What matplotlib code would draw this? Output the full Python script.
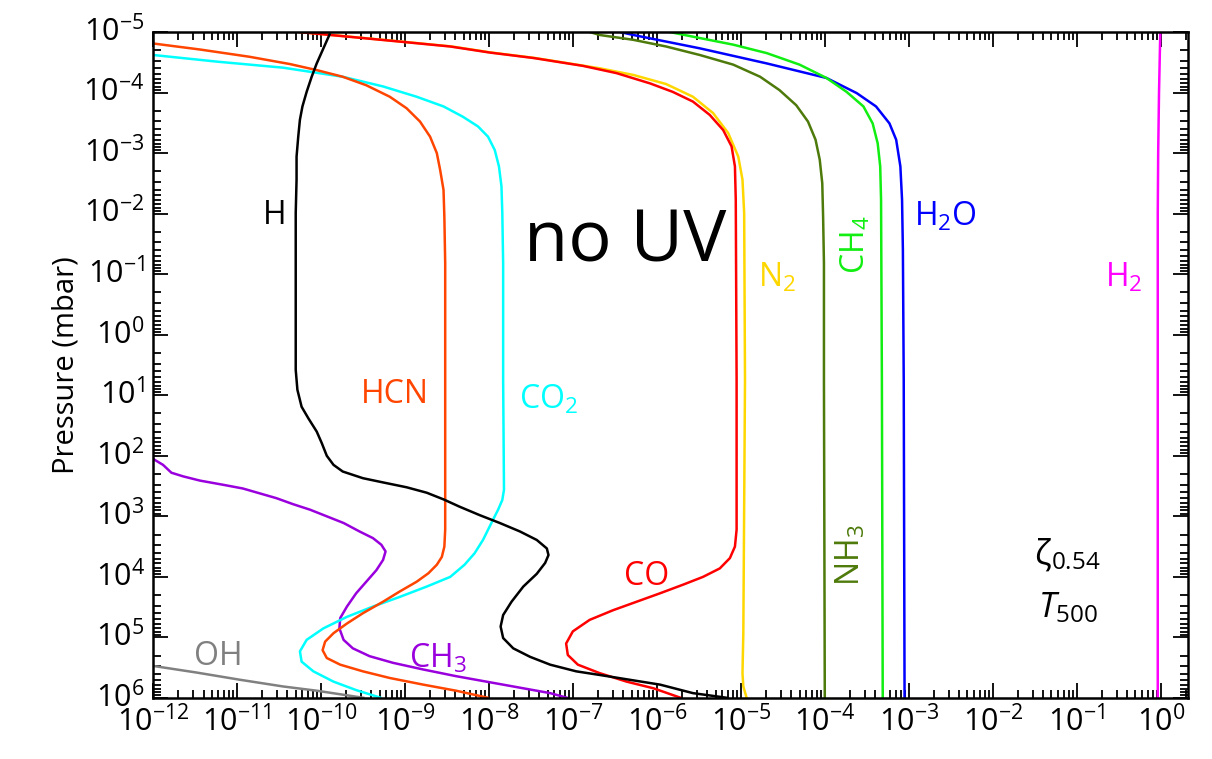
import matplotlib
matplotlib.use("Agg")
import matplotlib.pyplot as plt
import numpy as np
from matplotlib.ticker import LogLocator, NullFormatter

plt.rcParams["font.family"] = ["Open Sans", "DejaVu Sans"]
plt.rcParams["mathtext.fontset"] = "custom"
plt.rcParams["mathtext.rm"] = "Open Sans"
plt.rcParams["mathtext.it"] = "Open Sans:italic"
plt.rcParams["mathtext.default"] = "regular"
plt.rcParams["axes.unicode_minus"] = False
plt.rcParams["ytick.alignment"] = "center"

# --- Profiles: log10(pressure / mbar) and log10(mixing ratio) ---
H_logp = [-4.98, -4.73, -4.48, -4.26, -4.01, -3.77, -3.55, -3.27, -2.94, -2.56, -2.01, -1.19,
          0.25, 0.58, 0.91, 1.19, 1.38, 1.60, 1.79, 2.00, 2.15, 2.26, 2.37, 2.44, 2.52, 2.61,
          2.72, 2.84, 2.98, 3.11, 3.25, 3.39, 3.53, 3.64, 3.77, 3.95, 4.16, 4.41, 4.63, 4.82,
          5.01, 5.18, 5.32, 5.45, 5.56, 5.62, 5.78, 5.92, 6.0]
H_logx = [-9.89, -9.97, -10.05, -10.11, -10.17, -10.22, -10.25, -10.27, -10.29, -10.29, -10.30, -10.30,
          -10.30, -10.30, -10.28, -10.23, -10.15, -10.05, -9.99, -9.93, -9.85, -9.74, -9.50, -9.26,
          -8.98, -8.74, -8.54, -8.35, -8.11, -7.87, -7.63, -7.43, -7.31, -7.29, -7.33, -7.43, -7.59,
          -7.73, -7.83, -7.86, -7.83, -7.71, -7.51, -7.27, -6.96, -6.68, -5.96, -5.57, -5.15]

HCN_logp = [-4.81, -4.71, -4.59, -4.47, -4.37, -4.26, -4.12, -3.93, -3.74, -3.52, -3.27, -3.00,
            -2.72, -2.39, -1.95, -1.18, 0.75, 3.22, 3.50, 3.67, 3.80, 3.94, 4.08, 4.24, 4.41, 4.60,
            4.77, 4.93, 5.07, 5.21, 5.34, 5.45, 5.56, 5.67, 5.78, 5.88, 6.0]
HCN_logx = [-12.0, -11.44, -10.85, -10.37, -10.05, -9.74, -9.46, -9.18, -8.98, -8.82, -8.70, -8.62,
            -8.58, -8.54, -8.53, -8.52, -8.52, -8.52, -8.53, -8.56, -8.62, -8.72, -8.86, -9.06, -9.26,
            -9.50, -9.69, -9.85, -9.95, -9.98, -9.93, -9.77, -9.50, -9.18, -8.78, -8.39, -8.0]

CO2_logp = [-4.62, -4.51, -4.41, -4.26, -4.10, -3.93, -3.77, -3.60, -3.44, -3.27, -3.05, -2.78,
            -2.45, -2.01, -1.18, 0.75, 2.56, 2.73, 2.89, 3.11, 3.39, 3.61, 3.80, 4.00, 4.16, 4.33,
            4.49, 4.66, 4.85, 5.04, 5.23, 5.40, 5.56, 5.73, 5.87, 6.0]
CO2_logx = [-12.0, -11.24, -10.45, -9.74, -9.26, -8.86, -8.54, -8.31, -8.13, -8.01, -7.93, -7.88,
            -7.85, -7.84, -7.83, -7.83, -7.82, -7.84, -7.89, -7.97, -8.07, -8.17, -8.29, -8.46, -8.74,
            -9.06, -9.38, -9.69, -9.97, -10.17, -10.25, -10.23, -10.09, -9.85, -9.58, -9.28]

CH3_logp = [2.05, 2.15, 2.28, 2.34, 2.41, 2.48, 2.54, 2.62, 2.70, 2.80, 2.89, 3.00, 3.11, 3.25,
            3.36, 3.47, 3.58, 3.72, 3.89, 4.08, 4.27, 4.49, 4.68, 4.85, 5.04, 5.18, 5.31, 5.42,
            5.53, 5.64, 5.74, 5.84, 5.92, 6.0]
CH3_logx = [-12.0, -11.88, -11.78, -11.64, -11.44, -11.16, -10.93, -10.73, -10.53, -10.33, -10.13,
            -9.93, -9.73, -9.54, -9.38, -9.28, -9.23, -9.26, -9.34, -9.46, -9.58, -9.69, -9.77, -9.78,
            -9.73, -9.62, -9.42, -9.14, -8.78, -8.39, -7.99, -7.59, -7.27, -7.06]

OH_logp = [5.47, 5.58, 5.70, 5.81, 5.88, 6.0]
OH_logx = [-12.0, -11.48, -10.96, -10.45, -10.05, -9.48]

CO_logp = [-5.0, -4.92, -4.83, -4.76, -4.66, -4.57, -4.44, -4.32, -4.15, -4.01, -3.85, -3.63, -3.38,
           -3.11, -2.78, -2.23, 0.75, 3.22, 3.50, 3.69, 3.86, 4.00, 4.13, 4.27, 4.41, 4.55, 4.71,
           4.90, 5.10, 5.29, 5.45, 5.59, 5.73, 5.84, 6.0]
CO_logx = [-10.27, -9.66, -8.98, -8.46, -7.99, -7.47, -6.88, -6.48, -6.08, -5.81, -5.57, -5.37, -5.21,
           -5.11, -5.07, -5.06, -5.05, -5.05, -5.07, -5.13, -5.25, -5.45, -5.69, -5.96, -6.24, -6.52,
           -6.80, -7.00, -7.08, -7.06, -6.94, -6.68, -6.36, -6.04, -5.71]

N2_logp = [-5.0, -4.92, -4.83, -4.76, -4.66, -4.57, -4.40, -4.29, -4.14, -3.93, -3.66, -3.33, -2.94,
           -2.56, -2.01, 0.75, 4.93, 5.59, 5.81, 6.0]
N2_logx = [-10.25, -9.64, -8.96, -8.44, -7.97, -7.45, -6.68, -6.28, -5.89, -5.57, -5.33, -5.15, -5.03,
           -4.98, -4.96, -4.95, -4.97, -4.98, -4.97, -4.93]

NH3_logp = [-5.0, -4.95, -4.87, -4.76, -4.62, -4.46, -4.26, -4.04, -3.79, -3.52, -3.22, -2.89, -2.50,
            -1.95, -1.18, 0.75, 6.0]
NH3_logx = [-6.80, -6.68, -6.28, -5.89, -5.49, -5.09, -4.77, -4.54, -4.34, -4.20, -4.11, -4.06, -4.03,
            -4.02, -4.01, -4.01, -4.0]

CH4_logp = [-5.0, -4.90, -4.79, -4.65, -4.46, -4.24, -4.01, -3.77, -3.49, -3.16, -2.78, -2.23, 0.75, 6.0]
CH4_logx = [-5.85, -5.49, -5.09, -4.69, -4.30, -3.98, -3.74, -3.54, -3.43, -3.37, -3.34, -3.33, -3.32, -3.31]

H2O_logp = [-5.0, -4.95, -4.73, -4.48, -4.24, -3.99, -3.77, -3.49, -3.22, -2.78, -2.23, -1.40, 0.75, 6.0]
H2O_logx = [-6.44, -6.28, -5.49, -4.69, -3.98, -3.62, -3.39, -3.23, -3.15, -3.10, -3.08, -3.07, -3.06, -3.05]

H2_logp = [-5.0, -4.0, -3.0, -2.0, 0.0, 3.0, 6.0]
H2_logx = [-0.005, -0.02, -0.03, -0.035, -0.035, -0.035, -0.035]

species = [
    ("H2", H2_logp, H2_logx, "#ff00ff"),
    ("H2O", H2O_logp, H2O_logx, "#0000ff"),
    ("CH4", CH4_logp, CH4_logx, "#11ee11"),
    ("NH3", NH3_logp, NH3_logx, "#4d7a0a"),
    ("N2", N2_logp, N2_logx, "#ffd700"),
    ("CO", CO_logp, CO_logx, "#ff0000"),
    ("OH", OH_logp, OH_logx, "#808080"),
    ("CH3", CH3_logp, CH3_logx, "#9900dd"),
    ("CO2", CO2_logp, CO2_logx, "#00ffff"),
    ("HCN", HCN_logp, HCN_logx, "#ff4500"),
    ("H", H_logp, H_logx, "#000000"),
]

fig = plt.figure(figsize=(12.12, 7.59), dpi=100)
ax = fig.add_axes([0.1262, 0.0804, 0.8538, 0.8775])

for name, lp, lx, col in species:
    ax.plot(10.0 ** np.array(lx), 10.0 ** np.array(lp), color=col, lw=1.8,
            solid_joinstyle="round", solid_capstyle="butt")

ax.set_xscale("log")
ax.set_yscale("log")
ax.set_xlim(1e-12, 2.1)
ax.set_ylim(1e6, 1e-5)

for axis in (ax.xaxis, ax.yaxis):
    axis.set_major_locator(LogLocator(base=10, numticks=30))
    axis.set_minor_locator(LogLocator(base=10, subs=np.arange(2, 10), numticks=300))
    axis.set_minor_formatter(NullFormatter())

ax.tick_params(which="both", direction="in", top=True, right=True, width=1.3)
ax.tick_params(which="major", length=11, labelsize=22)
ax.tick_params(which="minor", length=6)
ax.tick_params(axis="y", which="major", pad=6)
ax.tick_params(axis="x", which="major", pad=6)
for sp in ax.spines.values():
    sp.set_linewidth(1.8)

ax.set_ylabel("Pressure (mbar)", fontsize=21, labelpad=2)

# species labels
lab = dict(transform=ax.transAxes, ha="center", va="center", fontsize=23)
ax.text(0.118, 0.725, "H", color="#000000", **lab)
ax.text(0.234, 0.455, "HCN", color="#ff4500", **lab)
ax.text(0.382, 0.448, r"$CO_2$", color="#00ffff", **lab)
ax.text(0.275, 0.058, r"$CH_3$", color="#9900dd", **lab)
ax.text(0.063, 0.063, "OH", color="#808080", **lab)
ax.text(0.477, 0.182, "CO", color="#ff0000", **lab)
ax.text(0.603, 0.630, r"$N_2$", color="#ffd700", **lab)
ax.text(0.679, 0.680, r"$CH_4$", color="#11ee11", rotation=90, **lab)
ax.text(0.766, 0.722, r"$H_2O$", color="#0000ff", **lab)
ax.text(0.938, 0.630, r"$H_2$", color="#ff00ff", **lab)
ax.text(0.674, 0.215, r"$NH_3$", color="#4d7a0a", rotation=90, **lab)

ax.text(0.456, 0.683, "no UV", transform=ax.transAxes, ha="center", va="center",
        fontsize=52, color="black")
ax.text(0.884, 0.215, r"$ζ_{0.54}$", transform=ax.transAxes, ha="center", va="center",
        fontsize=25, color="black")
ax.text(0.884, 0.135, r"$\mathit{T}_{500}$", transform=ax.transAxes, ha="center",
        va="center", fontsize=25, color="black")

fig.savefig("out.png", dpi=100)
